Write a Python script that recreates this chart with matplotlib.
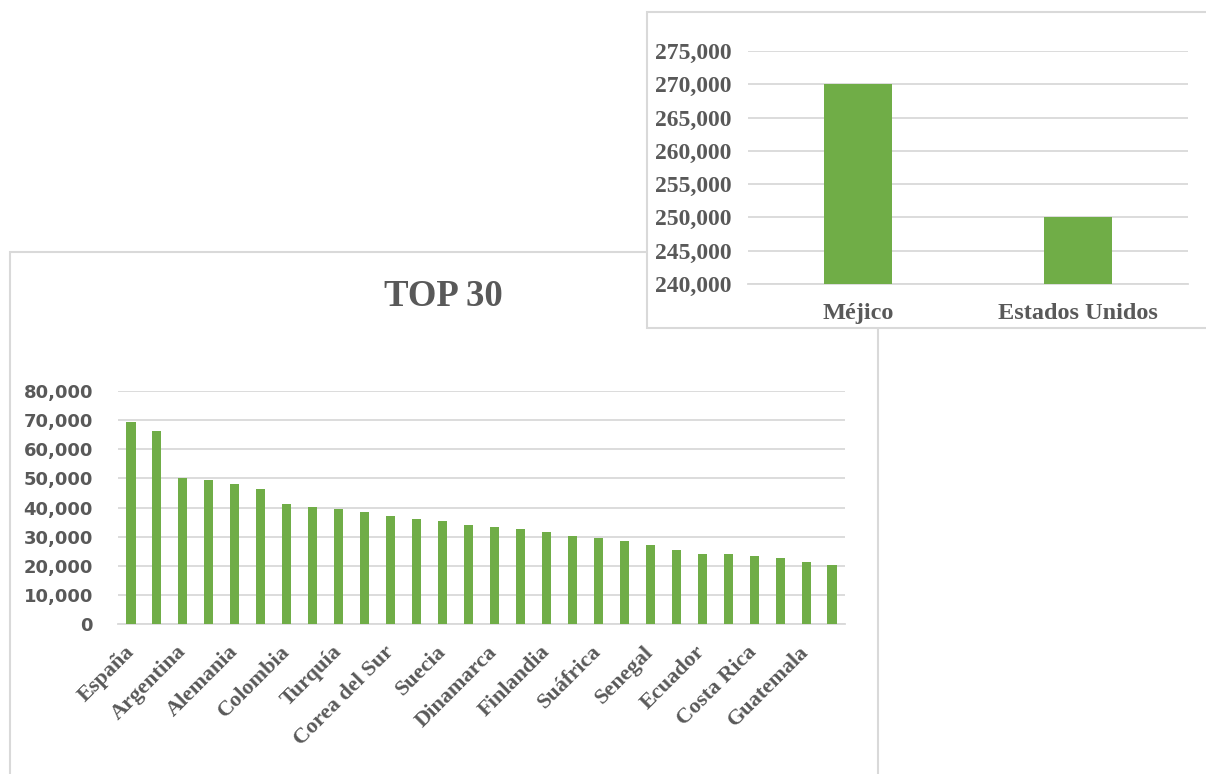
import matplotlib.pyplot as plt
import numpy as np
from matplotlib.patches import Rectangle
from matplotlib.ticker import FuncFormatter

# datos del TOP 30 (28 barras visibles, etiquetas cada dos)
valores = [69400, 66300, 50100, 49500, 48200, 46400, 41300, 40100, 39400, 38500,
           37200, 36100, 35400, 34000, 33400, 32500, 31500, 30200, 29400, 28400,
           27200, 25300, 24100, 24100, 23400, 22700, 21300, 20100]
etiquetas = ["España", "Argentina", "Alemania", "Colombia", "Turquía", "Corea del Sur",
             "Suecia", "Dinamarca", "Finlandia", "Suáfrica", "Senegal", "Ecuador",
             "Costa Rica", "Guatemala"]

# grafico pequeño
paises_top = ["Méjico", "Estados Unidos"]
valores_top = [270000, 250000]

W, H = 1206, 774
verde = "#70AD47"
gris = "#595959"
rejilla = "#d9d9d9"
miles = FuncFormatter(lambda v, p: f"{int(v):,}")

fig = plt.figure(figsize=(W / 100, H / 100), dpi=100)

def px(x0, y0, x1, y1):
    # caja en pixeles (arriba-izquierda) -> coords de figura
    return [x0 / W, 1 - y1 / H, (x1 - x0) / W, (y1 - y0) / H]

# marco del grafico principal
l, b, w, h = px(10, 252, 878, 800)
fig.patches.append(Rectangle((l, b), w, h, transform=fig.transFigure,
                             facecolor="white", edgecolor=rejilla, lw=1.5, zorder=-1))

ax = fig.add_axes(px(118, 391, 845, 624))
ax.set_zorder(1)
ax.patch.set_alpha(0)
x = np.arange(len(valores))
ax.bar(x, valores, width=0.35, color=verde, zorder=3)
ax.set_xlim(-0.5, len(valores) - 0.5)
ax.set_ylim(0, 80000)
ax.set_yticks(np.arange(0, 80001, 10000))
ax.yaxis.set_major_formatter(miles)
ax.grid(axis="y", color=rejilla, lw=1.3, zorder=0)
for s in ["top", "right", "left"]:
    ax.spines[s].set_visible(False)
ax.spines["bottom"].set_color(rejilla)
ax.spines["bottom"].set_linewidth(1.3)
ax.tick_params(length=0)
ax.tick_params(axis="y", labelsize=13, labelcolor=gris, pad=18)
for t in ax.get_yticklabels():
    t.set_fontweight("bold")
ax.set_xticks(x[::2])
ax.set_xticklabels(etiquetas, rotation=45, ha="right", va="center", rotation_mode="anchor",
                   family="Liberation Serif", fontweight="bold", fontsize=16, color=gris)
ax.tick_params(axis="x", pad=18)
fig.text(443 / W, 1 - 297 / H, "TOP 30", ha="center", va="center",
         family="Liberation Serif", fontweight="bold", fontsize=26.5, color=gris,
         zorder=2)

# marco del grafico pequeño, encima
l, b, w, h = px(647, 12, 1230, 328)
fig.patches.append(Rectangle((l, b), w, h, transform=fig.transFigure,
                             facecolor="white", edgecolor=rejilla, lw=1.5, zorder=5))

ax2 = fig.add_axes(px(748, 51, 1188, 284))
ax2.set_zorder(6)
ax2.patch.set_alpha(0)
x2 = np.arange(len(valores_top))
ax2.bar(x2, valores_top, width=0.31, color=verde, zorder=3)
ax2.set_xlim(-0.5, 1.5)
ax2.set_ylim(240000, 275000)
ax2.set_yticks(np.arange(240000, 275001, 5000))
ax2.yaxis.set_major_formatter(miles)
ax2.grid(axis="y", color=rejilla, lw=1.3, zorder=0)
for s in ["top", "right", "left"]:
    ax2.spines[s].set_visible(False)
ax2.spines["bottom"].set_color(rejilla)
ax2.spines["bottom"].set_linewidth(1.3)
ax2.tick_params(length=0)
ax2.set_xticks(x2)
ax2.set_xticklabels(paises_top)
for t in ax2.get_xticklabels():
    t.set_fontsize(17.5)
for t in ax2.get_yticklabels():
    t.set_fontsize(17)
for t in ax2.get_xticklabels() + ax2.get_yticklabels():
    t.set_family("Liberation Serif")
    t.set_fontweight("bold")
    t.set_color(gris)
ax2.tick_params(axis="x", pad=14)
ax2.tick_params(axis="y", pad=12)

fig.savefig("out.png", dpi=100)
